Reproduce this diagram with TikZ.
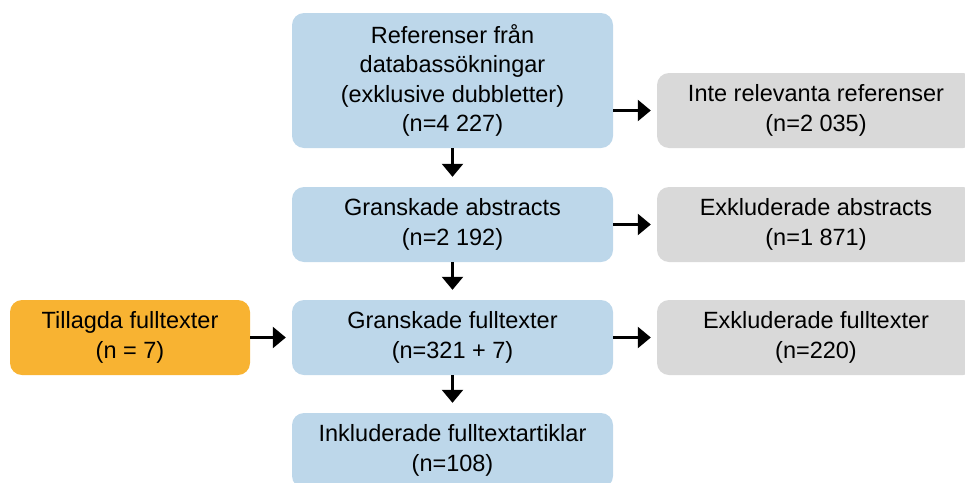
\documentclass[tikz,border=0pt]{standalone}
\usepackage{fontspec}
\setmainfont{Liberation Sans}
\usetikzlibrary{arrows.meta}
\definecolor{boxblue}{HTML}{BDD7EA}
\definecolor{boxgrey}{HTML}{D9D9D9}
\definecolor{boxorange}{HTML}{F8B332}
\tikzset{
  card/.style={rounded corners=12pt, inner sep=0pt, align=center, text=black,
    font=\fontsize{23.5}{29.5}\selectfont, minimum height=75pt},
  bluebox/.style={card, fill=boxblue, minimum width=321pt},
  greybox/.style={card, fill=boxgrey, minimum width=318pt},
  orangebox/.style={card, fill=boxorange, minimum width=240pt},
  arr/.style={line width=2.5pt, -{Triangle[length=13pt,width=21pt]}},
}
\begin{document}
\begin{tikzpicture}[x=1pt,y=-1pt]
\useasboundingbox (0,0) rectangle (965,482);
\clip (0,0) rectangle (965,482);
\node[bluebox, minimum height=135pt] (b1) at (452.5,80.5) {Referenser från\\databassökningar\\(exklusive dubbletter)\\(n=4 227)};
\node[greybox] (g1) at (816,110.5) {Inte relevanta referenser\\(n=2 035)};
\node[bluebox] (b2) at (452.5,224.5) {Granskade abstracts\\(n=2 192)};
\node[greybox] (g2) at (816,224.5) {Exkluderade abstracts\\(n=1 871)};
\node[bluebox] (b3) at (452.5,337.5) {Granskade fulltexter\\(n=321 + 7)};
\node[greybox] (g3) at (816,337.5) {Exkluderade fulltexter\\(n=220)};
\node[orangebox] (o) at (130,337.5) {Tillagda fulltexter\\(n = 7)};
\node[bluebox] (b4) at (452.5,450.5) {Inkluderade fulltextartiklar\\(n=108)};
\draw[arr, shorten >=6pt] (b1.east |- g1.west) -- (g1.west);
\draw[arr, shorten >=6pt] (b2.east) -- (g2.west);
\draw[arr, shorten >=6pt] (b3.east) -- (g3.west);
\draw[arr, shorten >=6pt] (o.east) -- (b3.west);
\draw[arr, shorten >=10pt] (b1.south) -- (b2.north);
\draw[arr, shorten >=10pt] (b2.south) -- (b3.north);
\draw[arr, shorten >=10pt] (b3.south) -- (b4.north);
\end{tikzpicture}
\end{document}
